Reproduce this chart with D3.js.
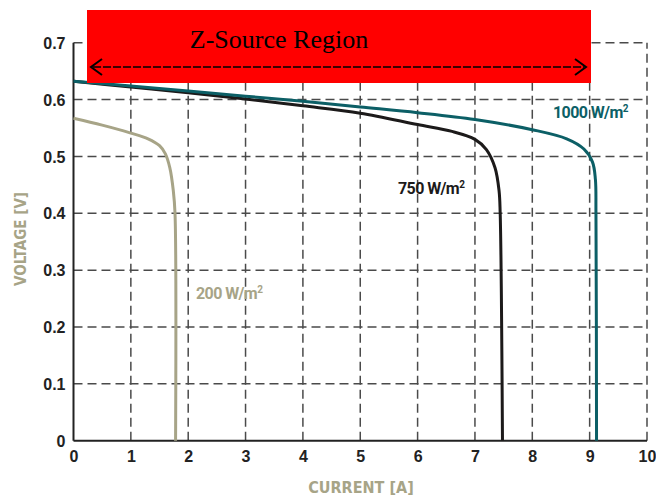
<!DOCTYPE html>
<html>
<head>
<meta charset="utf-8">
<script src="https://cdn.jsdelivr.net/npm/d3@7/dist/d3.min.js"></script>
<style>
  html, body { margin: 0; padding: 0; background: #fff; }
  svg { display: block; }
</style>
</head>
<body>
<svg id="chart" width="656" height="498"></svg>
<script>
// I–V characteristics of a PV cell at three irradiance levels
const xTicks = [0, 1, 2, 3, 4, 5, 6, 7, 8, 9, 10];
const yTicks = [0, 0.1, 0.2, 0.3, 0.4, 0.5, 0.6, 0.7];

// [current A, voltage V]
const curve1000 = [[0,0.632],[1,0.624],[2,0.615],[3,0.606],[4,0.597],[5,0.587],[6,0.577],[7,0.565],[8,0.547],[8.6,0.531],[8.9,0.513],[9.05,0.49],[9.1,0.46],[9.11,0.4],[9.12,0]];
const curve750  = [[0,0.632],[1,0.622],[2,0.612],[3,0.601],[4,0.589],[5,0.576],[6,0.556],[6.6,0.544],[7,0.53],[7.2,0.512],[7.35,0.48],[7.42,0.44],[7.44,0.4],[7.48,0]];
const curve200  = [[0,0.567],[0.5,0.555],[1,0.541],[1.3,0.531],[1.5,0.519],[1.6,0.505],[1.68,0.48],[1.74,0.44],[1.77,0.4],[1.78,0]];

const seriesNames = ["1000 W/m²", "750 W/m²", "200 W/m²"];
const regionLabel = "Z-Source Region";

const svg = d3.select("#chart");
const x = d3.scaleLinear().domain([0, 10]).range([73.5, 647]);
const y = d3.scaleLinear().domain([0, 0.7]).range([440.7, 42.7]);

const gridColor = "#4a4a4a";
const teal = "#0c5f66", dark = "#1c1a1a", tan = "#a7a487";

// dashed grid
const grid = svg.append("g").attr("stroke", gridColor).attr("stroke-width", 1.5)
  .attr("stroke-dasharray", "9,5").attr("fill", "none");
grid.selectAll("line.v").data(xTicks.slice(1)).join("line")
  .attr("x1", d => x(d)).attr("x2", d => x(d))
  .attr("y1", y(0)).attr("y2", y(0.7));
grid.selectAll("line.h").data(yTicks.slice(1)).join("line")
  .attr("x1", x(0)).attr("x2", x(10))
  .attr("y1", d => y(d)).attr("y2", d => y(d));

// axes
const xAxis = svg.append("g").attr("transform", `translate(0,${y(0)})`)
  .call(d3.axisBottom(x).tickValues(xTicks).tickSize(0).tickPadding(10).tickFormat(d3.format("d")));
const yAxis = svg.append("g").attr("transform", `translate(${x(0)},0)`)
  .call(d3.axisLeft(y).tickValues(yTicks).tickSize(0).tickPadding(8)
    .tickFormat(d => d === 0 ? "0" : d3.format(".1f")(d)));
[xAxis, yAxis].forEach(g => {
  g.select(".domain").attr("stroke", "#222").attr("stroke-width", 2);
  g.selectAll("text").attr("font-family", "'Liberation Sans', Arial, sans-serif")
    .attr("font-weight", "bold").attr("font-size", 16).attr("fill", "#222");
});
xAxis.select(".domain").attr("d", `M${x(0)},0H${x(10)}`);
yAxis.select(".domain").attr("d", `M0,${y(0)}V${y(0.7)}`);
yAxis.selectAll("text").attr("dy", "0.35em");

// axis titles
const titleFont = "'DejaVu Sans Condensed', 'Liberation Sans Narrow', sans-serif";
svg.append("text").text("CURRENT [A]")
  .attr("x", 361).attr("y", 493).attr("text-anchor", "middle")
  .attr("font-family", titleFont).attr("font-weight", "bold").attr("font-size", 16)
  .attr("fill", tan);
svg.append("text").text("VOLTAGE [V]")
  .attr("transform", "translate(26,239) rotate(-90)").attr("text-anchor", "middle")
  .attr("font-family", titleFont).attr("font-weight", "bold").attr("font-size", 15)
  .attr("fill", tan);

// curves
const line = d3.line().x(d => x(d[0])).y(d => y(d[1])).curve(d3.curveCatmullRom.alpha(0.5));
[[curve200, tan], [curve750, dark], [curve1000, teal]].forEach(([data, color]) => {
  svg.append("path").datum(data).attr("d", line)
    .attr("fill", "none").attr("stroke", color).attr("stroke-width", 3);
});

// curve labels
const labelFont = "Roboto, 'Liberation Sans', sans-serif";
function curveLabel(txt, cx, cy, color) {
  const [num, unit] = txt.split(" ");
  const t = svg.append("text").attr("x", cx).attr("y", cy)
    .attr("font-family", labelFont).attr("font-weight", "bold").attr("font-size", 16)
    .attr("letter-spacing", "-0.6").attr("fill", color);
  t.append("tspan").text(num + " ");
  t.append("tspan").text(unit.replace("²", ""));
  t.append("tspan").text("2").attr("font-size", 10).attr("dy", -6);
}
curveLabel(seriesNames[0], 553, 118, teal);
curveLabel(seriesNames[1], 398, 194, dark);
curveLabel(seriesNames[2], 196, 299, tan);

// highlighted region with double-headed arrow
svg.append("rect").attr("x", 87).attr("y", 10).attr("width", 504).attr("height", 73)
  .attr("fill", "#ff0000");
svg.append("text").text(regionLabel)
  .attr("x", 279).attr("y", 48).attr("text-anchor", "middle")
  .attr("font-family", "'Liberation Serif', 'Times New Roman', serif").attr("font-size", 26)
  .attr("fill", "#000");
const ay = 67;
svg.append("line").attr("x1", 93).attr("x2", 584).attr("y1", ay).attr("y2", ay)
  .attr("stroke", "#000").attr("stroke-width", 1.6).attr("stroke-dasharray", "8,2");
svg.append("path").attr("d", `M102,${ay - 8}L91,${ay}L102,${ay + 8}`)
  .attr("fill", "none").attr("stroke", "#000").attr("stroke-width", 2);
svg.append("path").attr("d", `M575,${ay - 8}L586,${ay}L575,${ay + 8}`)
  .attr("fill", "none").attr("stroke", "#000").attr("stroke-width", 2);
</script>
</body>
</html>
